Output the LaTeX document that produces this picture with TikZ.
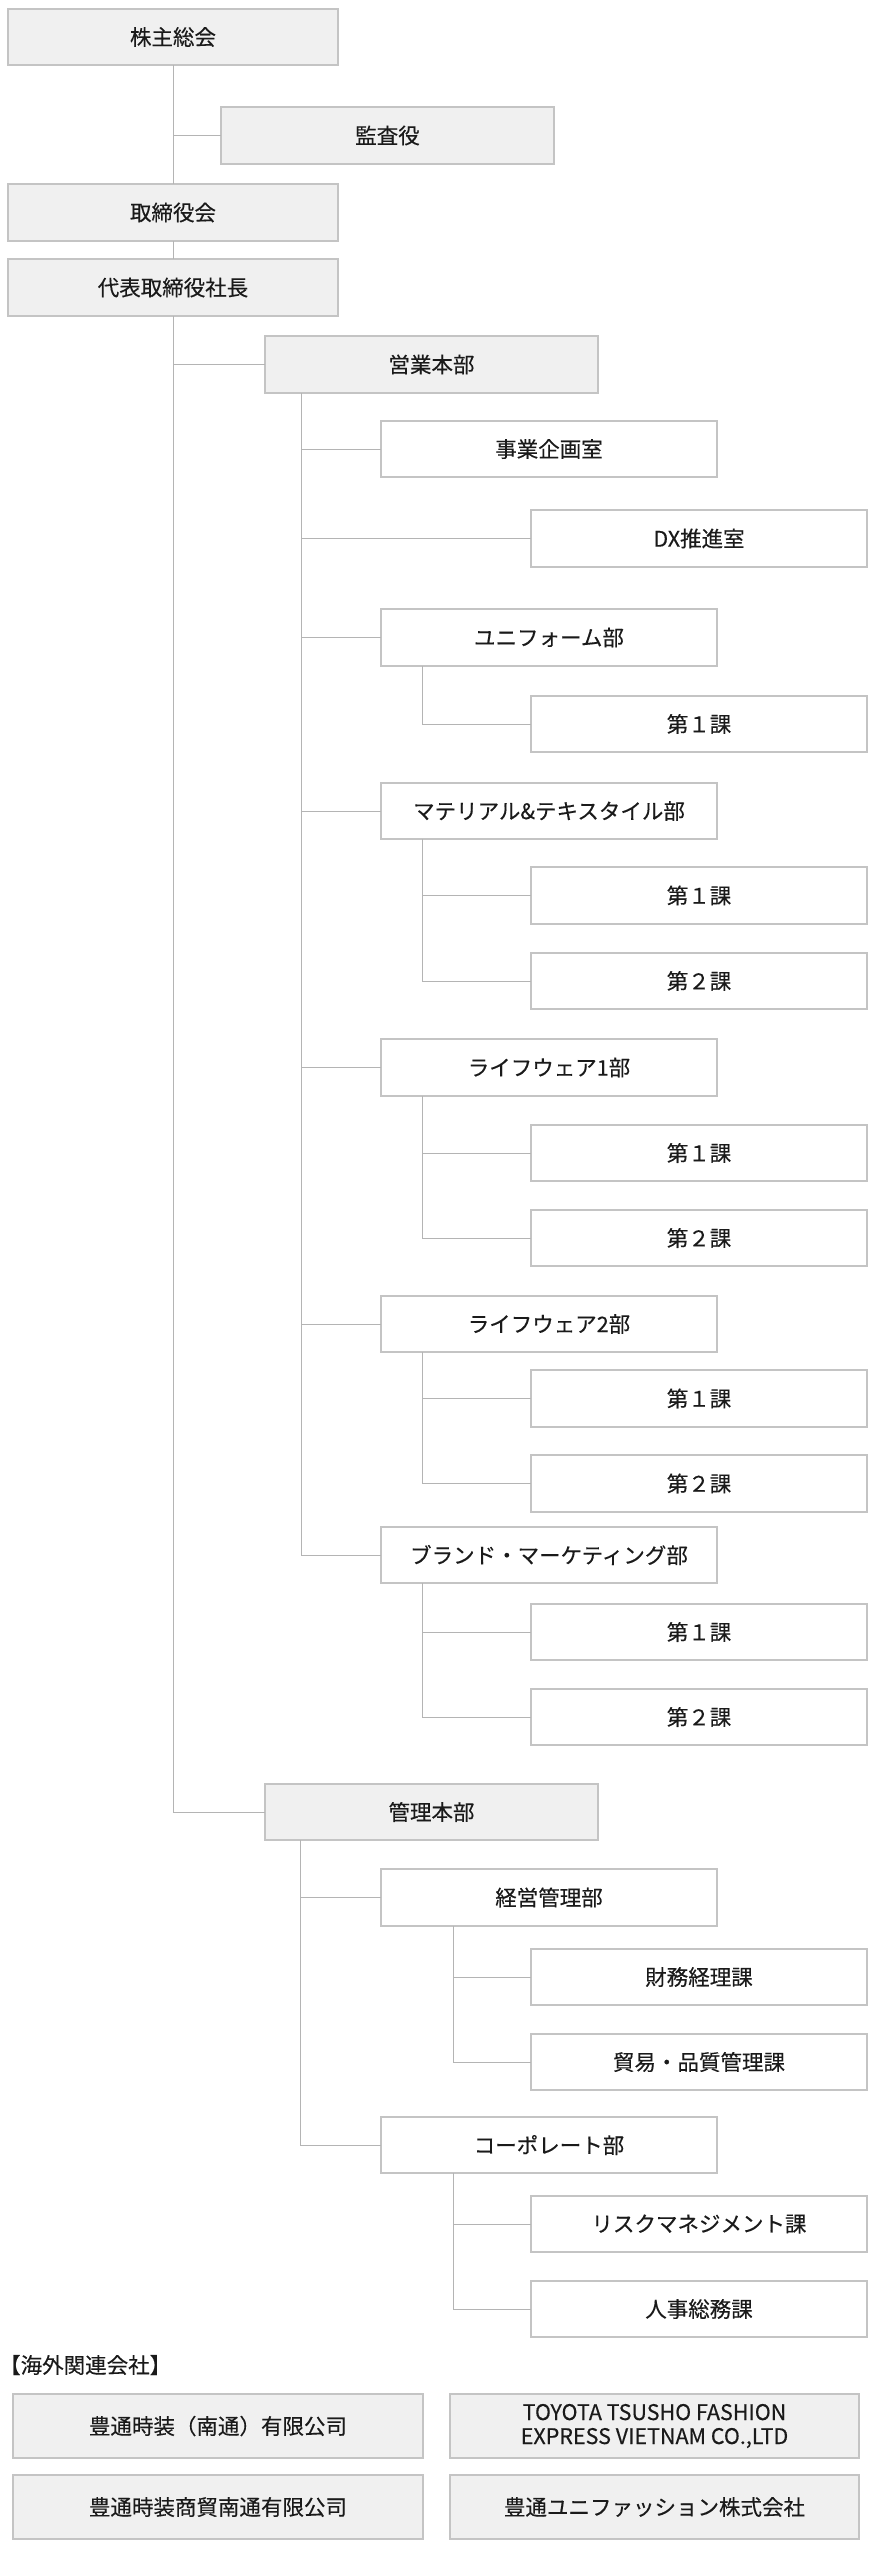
\documentclass[tikz,border=0pt]{standalone}
\usepackage{fontspec}
\setmainfont{Noto Sans CJK JP}[FakeBold=0.3]
\usetikzlibrary{calc}
\definecolor{boxline}{HTML}{C4C4C4}
\definecolor{conn}{HTML}{B4B4B4}
\definecolor{gfill}{HTML}{F0F0F0}
\definecolor{txt}{HTML}{1A1A1A}
\tikzset{
  boxbase/.style={rectangle, draw=boxline, line width=1.2pt, inner sep=0pt, outer sep=0pt, text=txt, font=\fontsize{21.5}{24}\selectfont, align=center},
  boxg/.style={boxbase, fill=gfill},
  boxw/.style={boxbase, fill=white},
  ln/.style={draw=conn, line width=1pt}
}
\newcommand\bx[7]{\node[#2, minimum width={#5-#3}, minimum height={#6-#4}] (#1) at ({(#3+#5)/2},{(#4+#6)/2}) {#7};}
\begin{document}
\begin{tikzpicture}[x=1pt,y=-1pt]
\useasboundingbox[fill=white] (0,0) rectangle (870,2560);
% top level
\bx{kabu}{boxg}{8}{9}{338}{65}{株主総会}
\bx{kansa}{boxg}{221}{107}{554}{164}{監査役}
\bx{tori}{boxg}{8}{184}{338}{241}{取締役会}
\bx{daihyo}{boxg}{8}{259}{338}{316}{代表取締役社長}
\bx{eigyo}{boxg}{265}{336}{598}{393}{営業本部}
\bx{kanri}{boxg}{265}{1784}{598}{1840}{管理本部}
% sales
\bx{jigyo}{boxw}{381}{421}{717}{477}{事業企画室}
\bx{dx}{boxw}{531}{510}{867}{567}{DX推進室}
\bx{unif}{boxw}{381}{609}{717}{666}{ユニフォーム部}
\bx{u1}{boxw}{531}{696}{867}{752}{第１課}
\bx{mat}{boxw}{381}{783}{717}{839}{マテリアル\&テキスタイル部}
\bx{m1}{boxw}{531}{867}{867}{924}{第１課}
\bx{m2}{boxw}{531}{953}{867}{1009}{第２課}
\bx{lw1}{boxw}{381}{1039}{717}{1096}{ライフウェア1部}
\bx{la1}{boxw}{531}{1125}{867}{1181}{第１課}
\bx{la2}{boxw}{531}{1210}{867}{1266}{第２課}
\bx{lw2}{boxw}{381}{1296}{717}{1352}{ライフウェア2部}
\bx{lb1}{boxw}{531}{1370}{867}{1427}{第１課}
\bx{lb2}{boxw}{531}{1455}{867}{1512}{第２課}
\bx{brand}{boxw}{381}{1527}{717}{1583}{ブランド・マーケティング部}
\bx{b1}{boxw}{531}{1604}{867}{1660}{第１課}
\bx{b2}{boxw}{531}{1689}{867}{1745}{第２課}
% admin
\bx{keiei}{boxw}{381}{1869}{717}{1926}{経営管理部}
\bx{zaimu}{boxw}{531}{1949}{867}{2005}{財務経理課}
\bx{boeki}{boxw}{531}{2034}{867}{2090}{貿易・品質管理課}
\bx{corp}{boxw}{381}{2117}{717}{2173}{コーポレート部}
\bx{risk}{boxw}{531}{2196}{867}{2252}{リスクマネジメント課}
\bx{jinji}{boxw}{531}{2281}{867}{2337}{人事総務課}
% overseas
\node[anchor=west, inner sep=0pt, text=txt, font=\fontsize{21.5}{24}\selectfont] (ovt) at (-1,2365) {【海外関連会社】};
\bx{ov1}{boxg}{13}{2394}{423}{2458}{豊通時装（南通）有限公司}
\bx{ov2}{boxg}{450}{2394}{859}{2458}{TOYOTA TSUSHO FASHION\\EXPRESS VIETNAM CO.,LTD}
\bx{ov3}{boxg}{13}{2475}{423}{2539}{豊通時装商貿南通有限公司}
\bx{ov4}{boxg}{450}{2475}{859}{2539}{豊通ユニファッション株式会社}
% connectors top
\draw[ln] (kabu.south) -- (tori.north);
\draw[ln] (kabu.south |- kansa.west) -- (kansa.west);
\draw[ln] (tori.south) -- (daihyo.north);
\draw[ln] (daihyo.south) |- (kanri.west);
\draw[ln] (daihyo.south |- eigyo.west) -- (eigyo.west);
% sales spine
\coordinate (ev) at ($(eigyo.south west)+(36,0)$);
\draw[ln] (ev) |- (brand.west);
\draw[ln] (ev |- jigyo.west) -- (jigyo.west);
\draw[ln] (ev |- dx.west) -- (dx.west);
\draw[ln] (ev |- unif.west) -- (unif.west);
\draw[ln] (ev |- mat.west) -- (mat.west);
\draw[ln] (ev |- lw1.west) -- (lw1.west);
\draw[ln] (ev |- lw2.west) -- (lw2.west);
% sub spines
\coordinate (uv) at ($(unif.south west)+(41,0)$);
\draw[ln] (uv) |- (u1.west);
\coordinate (mv) at ($(mat.south west)+(41,0)$);
\draw[ln] (mv) |- (m2.west);
\draw[ln] (mv |- m1.west) -- (m1.west);
\coordinate (lav) at ($(lw1.south west)+(41,0)$);
\draw[ln] (lav) |- (la2.west);
\draw[ln] (lav |- la1.west) -- (la1.west);
\coordinate (lbv) at ($(lw2.south west)+(41,0)$);
\draw[ln] (lbv) |- (lb2.west);
\draw[ln] (lbv |- lb1.west) -- (lb1.west);
\coordinate (bv) at ($(brand.south west)+(41,0)$);
\draw[ln] (bv) |- (b2.west);
\draw[ln] (bv |- b1.west) -- (b1.west);
% admin spine
\coordinate (kv) at ($(kanri.south west)+(35,0)$);
\draw[ln] (kv) |- (corp.west);
\draw[ln] (kv |- keiei.west) -- (keiei.west);
\coordinate (kev) at ($(keiei.south west)+(72,0)$);
\draw[ln] (kev) |- (boeki.west);
\draw[ln] (kev |- zaimu.west) -- (zaimu.west);
\coordinate (cv) at ($(corp.south west)+(72,0)$);
\draw[ln] (cv) |- (jinji.west);
\draw[ln] (cv |- risk.west) -- (risk.west);
\end{tikzpicture}
\end{document}
